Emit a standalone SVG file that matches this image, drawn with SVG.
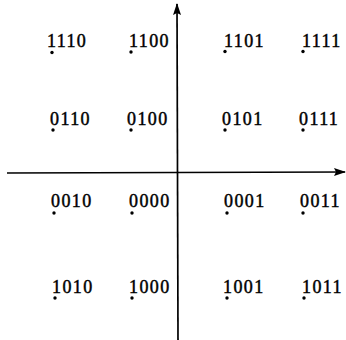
<svg xmlns="http://www.w3.org/2000/svg" width="346" height="340" viewBox="0 0 346 340">
<defs>
<style>
.t{font-family:"Liberation Serif","Times New Roman",serif;font-size:18px;letter-spacing:1.4px;fill:#000;stroke:#000;stroke-width:0.45}
.d{fill:#000}
.ax{stroke:#000;stroke-width:1.7;fill:none}
</style>
<marker id="ah" viewBox="0 0 12 10" refX="11" refY="5" markerWidth="12" markerHeight="10" markerUnits="userSpaceOnUse" orient="auto">
<path d="M0,1 L12,5 L0,9 L2,5 Z" fill="#000"/>
</marker>
</defs>
<rect width="346" height="340" fill="#fff"/>
<g id="axes">
<line class="ax" x1="7" y1="173" x2="345" y2="172" marker-end="url(#ah)"/>
<line class="ax" x1="178" y1="340" x2="177" y2="4" marker-end="url(#ah)"/>
</g>
<g id="p1110"><text class="t" x="47" y="47">1110</text><circle class="d" cx="52" cy="52.5" r="1.7"/></g>
<g id="p1100"><text class="t" x="129" y="47">1100</text><circle class="d" cx="131" cy="52" r="1.7"/></g>
<g id="p1101"><text class="t" x="224" y="47">1101</text><circle class="d" cx="225" cy="51.5" r="1.7"/></g>
<g id="p1111"><text class="t" x="302" y="47">1111</text><circle class="d" cx="303" cy="51.5" r="1.7"/></g>
<g id="p0110"><text class="t" x="50" y="125">0110</text><circle class="d" cx="53" cy="130" r="1.7"/></g>
<g id="p0100"><text class="t" x="127" y="125">0100</text><circle class="d" cx="131" cy="130" r="1.7"/></g>
<g id="p0101"><text class="t" x="222" y="125">0101</text><circle class="d" cx="225" cy="130" r="1.7"/></g>
<g id="p0111"><text class="t" x="299" y="125">0111</text><circle class="d" cx="303" cy="130" r="1.7"/></g>
<g id="p0010"><text class="t" x="51" y="207">0010</text><circle class="d" cx="54" cy="213" r="1.7"/></g>
<g id="p0000"><text class="t" x="129" y="207">0000</text><circle class="d" cx="132" cy="213" r="1.7"/></g>
<g id="p0001"><text class="t" x="224" y="207">0001</text><circle class="d" cx="227" cy="213" r="1.7"/></g>
<g id="p0011"><text class="t" x="300" y="207">0011</text><circle class="d" cx="303" cy="213" r="1.7"/></g>
<g id="p1010"><text class="t" x="52" y="293">1010</text><circle class="d" cx="55" cy="298" r="1.7"/></g>
<g id="p1000"><text class="t" x="129" y="293">1000</text><circle class="d" cx="132" cy="298" r="1.7"/></g>
<g id="p1001"><text class="t" x="223" y="293">1001</text><circle class="d" cx="227" cy="298" r="1.7"/></g>
<g id="p1011"><text class="t" x="302" y="293">1011</text><circle class="d" cx="304" cy="298" r="1.7"/></g>
</svg>
